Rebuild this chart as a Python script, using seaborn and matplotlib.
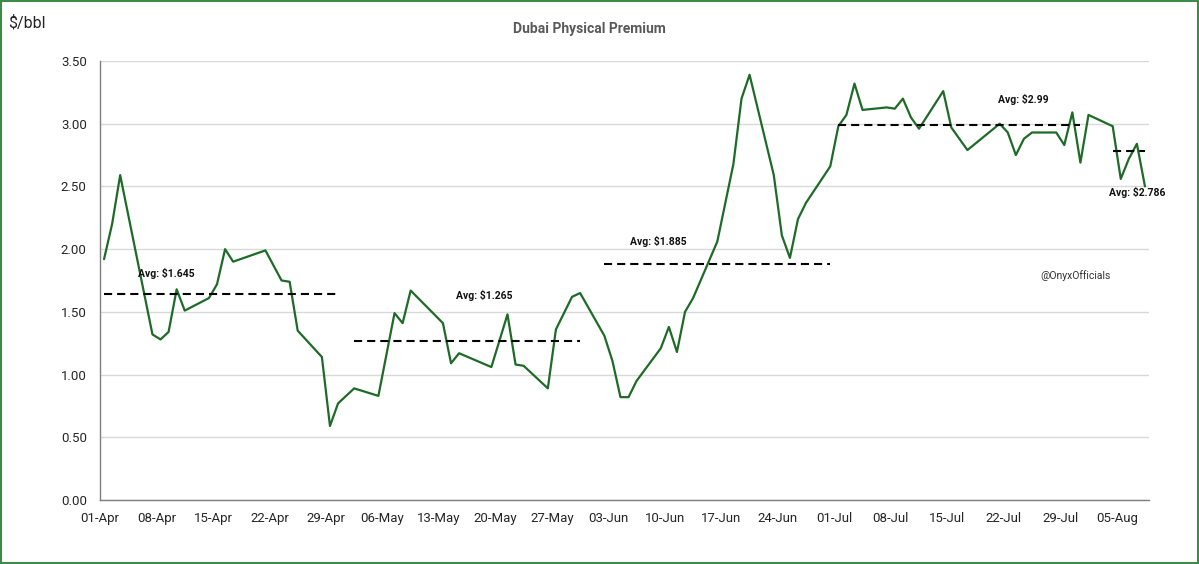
import pandas as pd
import matplotlib
matplotlib.use("Agg")
import matplotlib.pyplot as plt
import matplotlib.dates as mdates
import matplotlib.patches as patches
import seaborn as sns

# daily premium, $/bbl (trading days only, Excel joins the gaps)
dates = [
    "2025-04-01", "2025-04-02", "2025-04-03", "2025-04-07", "2025-04-08", "2025-04-09",
    "2025-04-10", "2025-04-11", "2025-04-14", "2025-04-15", "2025-04-16", "2025-04-17",
    "2025-04-21", "2025-04-23", "2025-04-24", "2025-04-25", "2025-04-28", "2025-04-29",
    "2025-04-30",
    "2025-05-02", "2025-05-05", "2025-05-07", "2025-05-08", "2025-05-09", "2025-05-13",
    "2025-05-14", "2025-05-15", "2025-05-19", "2025-05-21", "2025-05-22", "2025-05-23",
    "2025-05-26", "2025-05-27", "2025-05-29", "2025-05-30",
    "2025-06-02", "2025-06-03", "2025-06-04", "2025-06-05", "2025-06-06", "2025-06-09",
    "2025-06-10", "2025-06-11", "2025-06-12", "2025-06-13", "2025-06-16", "2025-06-17",
    "2025-06-18", "2025-06-19", "2025-06-20", "2025-06-23", "2025-06-24", "2025-06-25",
    "2025-06-26", "2025-06-27", "2025-06-30",
    "2025-07-01", "2025-07-02", "2025-07-03", "2025-07-04", "2025-07-07", "2025-07-08",
    "2025-07-09", "2025-07-10", "2025-07-11", "2025-07-14", "2025-07-15", "2025-07-17",
    "2025-07-21", "2025-07-22", "2025-07-23", "2025-07-24", "2025-07-25", "2025-07-28",
    "2025-07-29", "2025-07-30", "2025-07-31",
    "2025-08-01", "2025-08-04", "2025-08-05", "2025-08-06", "2025-08-07", "2025-08-08",
]
premium = [
    1.92, 2.20, 2.59, 1.32, 1.28, 1.34,
    1.68, 1.51, 1.61, 1.72, 2.00, 1.90,
    1.99, 1.75, 1.74, 1.35, 1.14, 0.59,
    0.77,
    0.89, 0.83, 1.49, 1.41, 1.67, 1.41,
    1.09, 1.17, 1.06, 1.48, 1.08, 1.07,
    0.89, 1.36, 1.62, 1.65,
    1.31, 1.11, 0.82, 0.82, 0.95, 1.21,
    1.38, 1.18, 1.50, 1.61, 2.06, 2.37,
    2.68, 3.20, 3.39, 2.59, 2.11, 1.93,
    2.24, 2.37, 2.66,
    2.98, 3.07, 3.32, 3.11, 3.13, 3.12,
    3.20, 3.05, 2.96, 3.26, 2.97, 2.79,
    3.00, 2.93, 2.75, 2.88, 2.93, 2.93,
    2.83, 3.09, 2.69,
    3.07, 2.98, 2.56, 2.72, 2.84, 2.50,
]

# monthly averages
avg_start = ["2025-04-01", "2025-05-02", "2025-06-02", "2025-07-01", "2025-08-04"]
avg_end = ["2025-04-30", "2025-05-30", "2025-06-30", "2025-07-31", "2025-08-08"]
avg_value = [1.645, 1.265, 1.885, 2.99, 2.786]
avg_label = ["Avg: $1.645", "Avg: $1.265", "Avg: $1.885", "Avg: $2.99", "Avg: $2.786"]
# where the labels sit (date, value)
label_x = ["2025-04-09 05:00", "2025-05-18 16:00", "2025-06-09 06:00", "2025-07-24 10:00", "2025-08-07 14:00"]
label_y = [1.81, 1.635, 2.06, 3.19, 2.45]

half_day = pd.Timedelta(hours=12)   # Excel puts points in the middle of the day
df = pd.DataFrame({"date": pd.to_datetime(dates) + half_day, "premium": premium})

sns.set_style("white")
plt.rcParams["font.family"] = ["Roboto", "DejaVu Sans"]

fig = plt.figure(figsize=(11.99, 5.64), dpi=100)
ax = fig.add_axes([100 / 1199, 64 / 564, 1049 / 1199, 439 / 564])

sns.lineplot(data=df, x="date", y="premium", ax=ax, color="#1e6b28", linewidth=1.6)

for s, e, v in zip(avg_start, avg_end, avg_value):
    seg = pd.DataFrame({"date": pd.to_datetime([s, e]) + half_day, "premium": [v, v]})
    sns.lineplot(data=seg, x="date", y="premium", ax=ax, color="black",
                 linewidth=1.5, dashes=False, linestyle=(0, (3.9, 2.4)))

for t, x, y in zip(avg_label, label_x, label_y):
    ax.text(pd.Timestamp(x), y, t, ha="center", va="center", fontsize=7.5,
            fontweight="bold", color="#111111", clip_on=False)

ax.text(pd.Timestamp("2025-07-30 21:00"), 1.79, "@OnyxOfficials", ha="center",
        va="center", fontsize=7.5, color="#333333")

ax.set_xlim(pd.Timestamp("2025-04-01"), pd.Timestamp("2025-08-09"))
ax.set_ylim(0, 3.5)
ax.set_yticks([0, 0.5, 1.0, 1.5, 2.0, 2.5, 3.0, 3.5])
ax.yaxis.set_major_formatter(plt.FormatStrFormatter("%.2f"))
ax.set_xticks(pd.date_range("2025-04-01", "2025-08-05", freq="7D"))
ax.xaxis.set_major_formatter(mdates.DateFormatter("%d-%b"))

ax.grid(axis="y", color="#d9d9d9", linewidth=1.0)
ax.set_axisbelow(True)
ax.set_xlabel("")
ax.set_ylabel("")
for side in ["top", "right"]:
    ax.spines[side].set_visible(False)
for side in ["left", "bottom"]:
    ax.spines[side].set_color("#7f7f7f")
    ax.spines[side].set_linewidth(1.0)
ax.tick_params(axis="both", direction="out", length=3.5, width=1.0, color="#7f7f7f",
               labelsize=9.5, labelcolor="#262626", pad=6)
ax.tick_params(axis="x", pad=5)

fig.text(589 / 1199, 1 - 29 / 564, "Dubai Physical Premium", ha="center", va="center",
         fontsize=10, fontweight="bold", color="#595959")
fig.text(8 / 1199, 1 - 23 / 564, "$/bbl", ha="left", va="center", fontsize=11.5,
         color="#262626")

fig.patches.append(patches.Rectangle((0.001, 0.002), 0.998, 0.996, transform=fig.transFigure,
                                     fill=False, edgecolor="#3d8b47", linewidth=1.5))

fig.savefig("out.png", dpi=100)
plt.close(fig)
